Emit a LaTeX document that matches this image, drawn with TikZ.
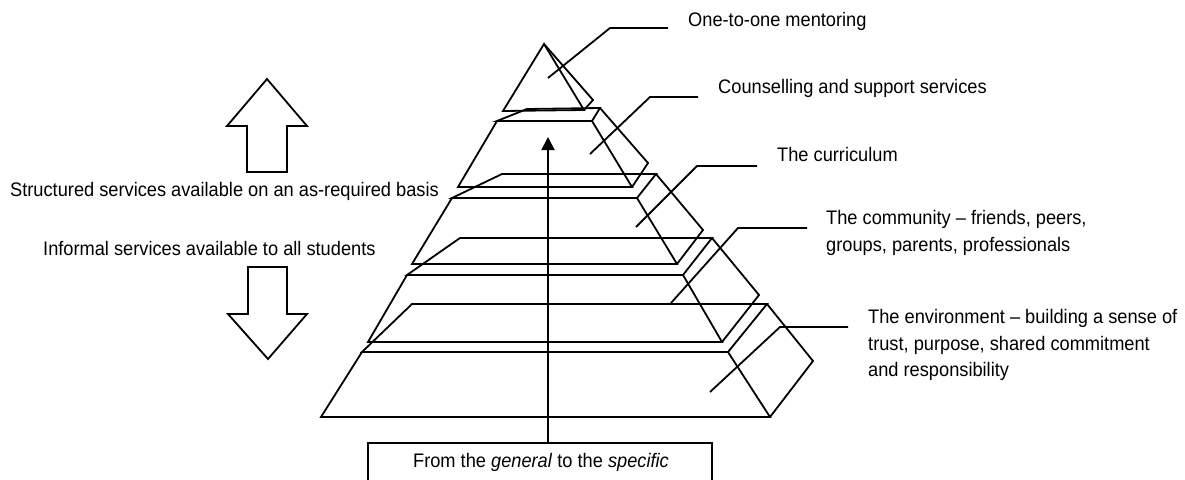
\documentclass[tikz,border=0pt]{standalone}
\usepackage{fontspec}
\setmainfont[FakeStretch=0.93]{Liberation Sans}
\usetikzlibrary{arrows.meta}
\begin{document}
\begin{tikzpicture}[x=1pt,y=-1pt,line join=miter,
  lbl/.style={anchor=base west,inner sep=0pt,font=\fontsize{19.6}{22}\selectfont},
  edge/.style={line width=1.8pt},
  leader/.style={line width=1.8pt},
  bigarrow/.style={line width=1.8pt},
  upar/.style={line width=1.9pt,-{Triangle[length=13pt,width=13pt]}}]
\useasboundingbox (0,0) rectangle (1185,479);
% layer 1 (apex)
\draw[edge] (544,44) -- (503,111) -- (584,110) -- cycle;
\draw[edge] (544,44) -- (593,100) -- (584,110);
% layer 2
\draw[edge] (497,121) -- (527,109) -- (600,108) -- (592,121) -- cycle;
\draw[edge] (497,121) -- (458,187) -- (632,187) -- (592,121);
\draw[edge] (600,108) -- (648,163) -- (632,187);
% layer 3
\draw[edge] (452,198) -- (502,174) -- (656,174) -- (637,198) -- cycle;
\draw[edge] (452,198) -- (412,264) -- (677,264) -- (637,198);
\draw[edge] (656,174) -- (703,230) -- (677,264);
% layer 4
\draw[edge] (407,275) -- (460,238) -- (712,238) -- (683,275) -- cycle;
\draw[edge] (407,275) -- (368,342) -- (722,342) -- (683,275);
\draw[edge] (712,238) -- (759,295) -- (722,342);
% layer 5
\draw[edge] (362,352) -- (412,304) -- (767,304) -- (728,352) -- cycle;
\draw[edge] (362,352) -- (321,417) -- (770,417) -- (728,352);
\draw[edge] (767,304) -- (813,361) -- (770,417);

% labels
\node[lbl] (t1) at (688,26) {One-to-one mentoring};
\node[lbl] (t2) at (718,93) {Counselling and support services};
\node[lbl] (t3) at (777,161) {The curriculum};
\node[lbl] (t4a) at (826,224) {The community – friends, peers,};
\node[lbl] (t4b) at (826,251) {groups, parents, professionals};
\node[lbl] (t5a) at (868,323) {The environment – building a sense of};
\node[lbl] (t5b) at (868,350) {trust, purpose, shared commitment};
\node[lbl] (t5c) at (868,376) {and responsibility};
\node[lbl] (ts) at (10,196) {Structured services available on an as-required basis};
\node[lbl] (ti) at (43,255) {Informal services available to all students};

% leader lines
\coordinate (s1) at (548,78);  \coordinate (b1) at (610,28);  \coordinate (e1) at (668,28);
\coordinate (s2) at (590,154); \coordinate (b2) at (650,97);  \coordinate (e2) at (698,97);
\coordinate (s3) at (636,227); \coordinate (b3) at (697,166); \coordinate (e3) at (757,166);
\coordinate (s4) at (671,303); \coordinate (b4) at (738,228); \coordinate (e4) at (807,228);
\coordinate (s5) at (710,392); \coordinate (b5) at (780,327); \coordinate (e5) at (848,327);
\draw[leader] (s1) -- (b1) -- (e1);
\draw[leader] (s2) -- (b2) -- (e2);
\draw[leader] (s3) -- (b3) -- (e3);
\draw[leader] (s4) -- (b4) -- (e4);
\draw[leader] (s5) -- (b5) -- (e5);

% block arrows
\draw[bigarrow] (267,79) -- (307,126) -- (287,126) -- (287,172) -- (247,172) -- (247,126) -- (227,126) -- cycle;
\draw[bigarrow] (248,267) -- (287,267) -- (287,314) -- (307,314) -- (268,359) -- (228,314) -- (248,314) -- cycle;

% bottom box and central arrow
\draw[edge] (368,480) -- (368,443) -- (712,443) -- (712,480);
\node[anchor=base,inner sep=0pt,font=\fontsize{19.6}{22}\selectfont] (box) at (541,467) {From the \textit{general} to the \textit{specific}};
\coordinate (abot) at (548,443);
\coordinate (atop) at (548,137);
\draw[upar] (abot) -- (atop);
\end{tikzpicture}
\end{document}
